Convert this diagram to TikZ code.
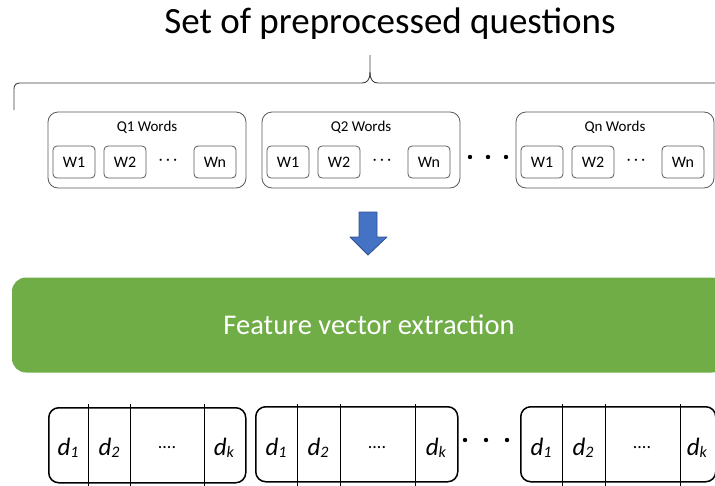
\documentclass[tikz,border=0pt]{standalone}
\usepackage{fontspec}
\setmainfont{Carlito}
\definecolor{boxgreen}{HTML}{70AD47}
\definecolor{arrowblue}{HTML}{4472C4}
\definecolor{arrowedge}{HTML}{2F528F}
\newcommand{\dsub}[1]{\textit{d}\raisebox{-2pt}{\fontsize{16}{16}\selectfont\textit{#1}}}
\begin{document}
\begin{tikzpicture}[x=1pt, y=-1pt, line join=round,
	qbox/.style={draw=black!65, line width=0.8pt, rounded corners=10pt, minimum width=198pt, minimum height=76pt, inner sep=0pt},
	wbox/.style={draw=black!65, line width=0.8pt, rounded corners=4pt, minimum width=42pt, minimum height=32pt, inner sep=0pt, font=\fontsize{16}{18}\selectfont},
	qlabel/.style={font=\fontsize{15}{17}\selectfont},
	vecbox/.style={draw, line width=1.5pt, rounded corners=10pt, minimum height=75pt, inner sep=0pt, anchor=north west},
	dlabel/.style={font=\fontsize{25}{28}\selectfont, anchor=base}]
	% Rahmen
	\useasboundingbox (0,0) rectangle (715,485);
	\clip (0,0) rectangle (715,485);
	
	% Titel und Klammer
	\node[font=\fontsize{37}{44}\selectfont, anchor=base] (title) at (390,33) {Set of preprocessed questions};
	\draw[black!75, line width=0.9pt] (14,110) -- (14,89) .. controls (14,85) and (16,83) .. (20,83) -- (362,83) .. controls (367,83) and (370,80) .. (370,72) -- (370,55);
	\draw[black!75, line width=0.9pt] (370,72) .. controls (370,80) and (373,83) .. (378,83) -- (730,83);
	
	% Fragen mit Woertern
	\node[qbox] (q1) at (147,150) {};
	\node[qlabel] (q1t) at (147,127) {Q1 Words};
	\node[wbox] (w11) at (74,162) {W1};
	\node[wbox] (w12) at (125,162) {W2};
	\node[qlabel] (w1d) at (168,162) {· · ·};
	\node[wbox] (w1n) at (215,162) {Wn};
	
	\node[qbox] (q2) at (361,150) {};
	\node[qlabel] (q2t) at (361,127) {Q2 Words};
	\node[wbox] (w21) at (288,162) {W1};
	\node[wbox] (w22) at (339,162) {W2};
	\node[qlabel] (w2d) at (382,162) {· · ·};
	\node[wbox] (w2n) at (429,162) {Wn};
	
	\fill (470,157) circle (2.2pt) (488,157) circle (2.2pt) (506,157) circle (2.2pt);
	
	\node[qbox] (qn) at (615,150) {};
	\node[qlabel] (qnt) at (615,127) {Qn Words};
	\node[wbox] (wn1) at (542,162) {W1};
	\node[wbox] (wn2) at (593,162) {W2};
	\node[qlabel] (wnd) at (636,162) {· · ·};
	\node[wbox] (wnn) at (683,162) {Wn};
	
	% Pfeil
	\filldraw[fill=arrowblue, draw=arrowedge, line width=0.8pt] (359,212) -- (377,212) -- (377,237) -- (387,237) -- (368,255) -- (350,237) -- (359,237) -- cycle;
	
	% Merkmalsextraktion
	\node[fill=boxgreen, rounded corners=14pt, minimum width=714pt, minimum height=95pt, text=white, font=\fontsize{28.5}{34}\selectfont] (fve) at (369,325) {Feature vector extraction};
	
	% Merkmalsvektoren
	\node[vecbox, minimum width=197pt] (v1) at (48,407) {};
	\draw[line width=0.8pt] (88,404) -- (88,487) (130,404) -- (130,487) (204,404) -- (204,487);
	\node[dlabel] (v11) at (68,455) {\dsub{1}};
	\node[dlabel] (v12) at (109,455) {\dsub{2}};
	\node[font=\fontsize{18}{20}\selectfont] (v1d) at (167,448) {....};
	\node[dlabel] (v1k) at (224,455) {\dsub{k}};
	
	\node[vecbox, minimum width=202pt] (v2) at (255,406) {};
	\draw[line width=0.8pt] (297,404) -- (297,487) (340,404) -- (340,487) (415,404) -- (415,487);
	\node[dlabel] (v21) at (276,455) {\dsub{1}};
	\node[dlabel] (v22) at (318,455) {\dsub{2}};
	\node[font=\fontsize{18}{20}\selectfont] (v2d) at (377,448) {....};
	\node[dlabel] (v2k) at (436,455) {\dsub{k}};
	
	\fill (465,440) circle (2.2pt) (486,440) circle (2.2pt) (507,440) circle (2.2pt);
	
	\node[vecbox, minimum width=195pt] (v3) at (520,406) {};
	\draw[line width=0.8pt] (562,404) -- (562,487) (605,404) -- (605,487) (680,404) -- (680,487);
	\node[dlabel] (v31) at (541,455) {\dsub{1}};
	\node[dlabel] (v32) at (583,455) {\dsub{2}};
	\node[font=\fontsize{18}{20}\selectfont] (v3d) at (642,448) {....};
	\node[dlabel] (v3k) at (697,455) {\dsub{k}};
\end{tikzpicture}
\end{document}
